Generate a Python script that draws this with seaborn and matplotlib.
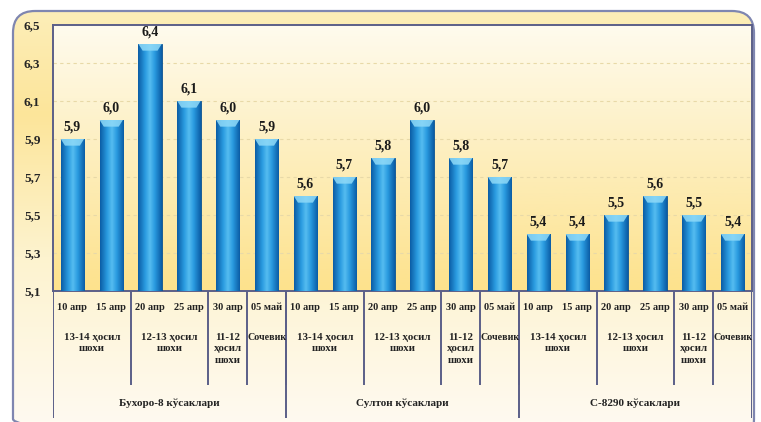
import numpy as np
import pandas as pd
import matplotlib
matplotlib.use("Agg")
import matplotlib.pyplot as plt
import seaborn as sns
from matplotlib.patches import FancyBboxPatch, Polygon
from matplotlib.colors import LinearSegmentedColormap
from matplotlib.ticker import FuncFormatter

# ---- data ----
values = [5.9, 6.0, 6.4, 6.1, 6.0, 5.9,
          5.6, 5.7, 5.8, 6.0, 5.8, 5.7,
          5.4, 5.4, 5.5, 5.6, 5.5, 5.4]
dates = ["10 апр", "15 апр", "20 апр", "25 апр", "30 апр", "05 май"] * 3
subgroups = ["13-14 ҳосил\nшохи", "12-13 ҳосил\nшохи", "11-12\nҳосил\nшохи", "Сочевик"]
subgroup_sizes = [2, 2, 1, 1]
groups = ["Бухоро-8 кўсаклари", "Султон кўсаклари", "С-8290 кўсаклари"]
yticks = [5.1, 5.3, 5.5, 5.7, 5.9, 6.1, 6.3, 6.5]

sns.set_theme(style="white")
plt.rcParams["font.family"] = ["Liberation Serif", "DejaVu Serif"]

W, H = 761, 422
fig = plt.figure(figsize=(W / 100, H / 100), dpi=100)
fig.patch.set_facecolor("white")

# background frame axes
bg = fig.add_axes([0, 0, 1, 1])
bg.set_xlim(0, W)
bg.set_ylim(H, 0)
bg.axis("off")
frame = FancyBboxPatch((13, 11), 741, 430, boxstyle="round,pad=0,rounding_size=22",
                       facecolor="none", edgecolor="#7f86b0", linewidth=1.6, zorder=3)
bg.add_patch(frame)
grad_cmap = LinearSegmentedColormap.from_list(
    "bgy", [(0, "#fdeeb8"), (0.25, "#fce59a"), (0.6, "#fdf3cf"), (1, "#fffaf0")])
gimg = bg.imshow(np.linspace(0, 1, 256).reshape(-1, 1), cmap=grad_cmap, aspect="auto",
                 extent=[13, 754, H, 11], zorder=1)
clip_frame = FancyBboxPatch((13, 11), 741, 430, boxstyle="round,pad=0,rounding_size=22",
                            transform=bg.transData, facecolor="none", edgecolor="none")
bg.add_patch(clip_frame)
gimg.set_clip_path(clip_frame)

# main plot axes
L, R, T, B = 53, 752, 25, 291
ax = fig.add_axes([L / W, 1 - B / H, (R - L) / W, (B - T) / H])
n = len(values)
df = pd.DataFrame({"pos": np.arange(n), "val": values})
sns.barplot(data=df, x="pos", y="val", ax=ax, color="#1f8fd6", width=0.6,
            saturation=1, zorder=3)
ax.set_xlim(-0.5, n - 0.5)
ax.set_ylim(5.1, 6.5)
ax.set_yticks(yticks)
ax.yaxis.set_major_formatter(FuncFormatter(lambda v, p: f"{v:.1f}".replace(".", ",")))
ax.tick_params(axis="y", length=0, pad=9, labelsize=9.5)
for lab in ax.get_yticklabels():
    lab.set_fontweight("bold")
ax.set_xticks([])
ax.set_xlabel("")
ax.set_ylabel("")
ax.patch.set_alpha(0)
for s in ax.spines.values():
    s.set_color("#5b5f88")
    s.set_linewidth(1.4)

# plot area gradient
pa_cmap = LinearSegmentedColormap.from_list(
    "pa", [(0, "#fde28c"), (0.45, "#fdedb8"), (1, "#fffbee")])
ax.imshow(np.linspace(0, 1, 256).reshape(-1, 1), cmap=pa_cmap, aspect="auto",
          extent=[-0.5, n - 0.5, 6.5, 5.1], zorder=0)
for t in yticks[1:-1]:
    ax.axhline(t, color="#e8d9a8", lw=0.8, ls=(0, (3, 3)), zorder=1)

# bar shading
bar_cmap = LinearSegmentedColormap.from_list(
    "bar", [(0, "#0b5da6"), (0.3, "#2a9be0"), (0.5, "#56bdf0"), (0.7, "#2a9be0"), (1, "#0b5da6")])
for p, v in zip(ax.patches, values):
    x0 = p.get_x()
    w = p.get_width()
    h = p.get_height()
    p.set_edgecolor("#0a4f8e")
    p.set_linewidth(0.6)
    im = ax.imshow(np.linspace(0, 1, 64).reshape(1, -1), cmap=bar_cmap, aspect="auto",
                   extent=[x0, x0 + w, 5.1, h], zorder=3.5)
    im.set_clip_path(p)
    d = w * 0.18
    e = 0.035
    top = Polygon([[x0, h], [x0 + w, h], [x0 + w - d, h - e], [x0 + d, h - e]],
                  closed=True, facecolor="#8fdaf8", edgecolor="none", alpha=0.85, zorder=4)
    ax.add_patch(top)
    ax.text(x0 + w / 2, h + 0.03, f"{v:.1f}".replace(".", ","), ha="center", va="bottom",
            fontsize=10, fontweight="bold", color="#1a1a1a", zorder=5)

# table axes
TB = 418
tax = fig.add_axes([L / W, 1 - TB / H, (R - L) / W, (TB - B) / H])
tax.set_xlim(-0.5, n - 0.5)
tax.set_ylim(TB - B, 0)
tax.axis("off")
line_c = "#5b5f88"
for i in range(n):
    tax.text(i, 16, dates[i], ha="center", va="center", fontsize=7.5, fontweight="bold",
             color="#222222")
# subgroup cells
pos = -0.5
for g in range(len(groups)):
    for sg, sz in zip(subgroups, subgroup_sizes):
        c = pos + sz / 2
        fs = 7.2 if sz == 1 and "\n" not in sg else 7.8
        tax.text(c, 42, sg, ha="center", va="top", fontsize=fs, fontweight="bold",
                 color="#222222", linespacing=1.35)
        pos += sz
        tax.plot([pos, pos], [0, 94], color=line_c, lw=1.4, solid_capstyle="butt")
    gstart = g * 6 - 0.5
    tax.plot([gstart, gstart], [0, TB - B], color=line_c, lw=1.4, solid_capstyle="butt")
    tax.text(gstart + 3, 112, groups[g], ha="center", va="center", fontsize=8,
             fontweight="bold", color="#222222")
tax.plot([n - 0.5, n - 0.5], [0, TB - B], color=line_c, lw=1.4, solid_capstyle="butt")

fig.savefig("out.png", dpi=100)
